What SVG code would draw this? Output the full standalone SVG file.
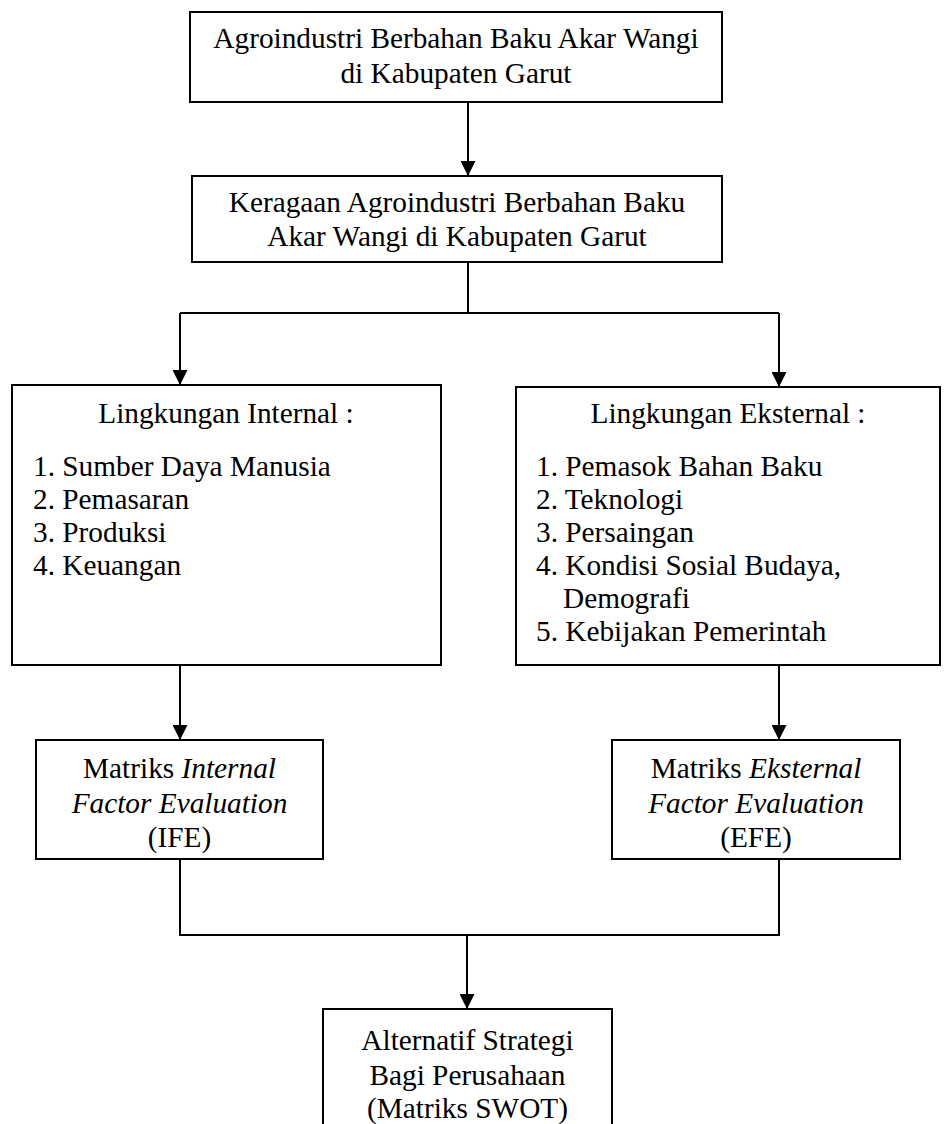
<svg xmlns="http://www.w3.org/2000/svg" width="947" height="1124" viewBox="0 0 947 1124">
<style>
.box{fill:#fff;stroke:#000;stroke-width:2}
.t{font-family:"Liberation Serif","Times New Roman",serif;font-size:29.3px;fill:#000}
.c{text-anchor:middle}
.i{font-style:italic}
.ln{fill:none;stroke:#000;stroke-width:2}
</style>
<defs>
<marker id="ah" viewBox="0 0 15 15" refX="15" refY="7.5" markerWidth="15" markerHeight="15" markerUnits="userSpaceOnUse" orient="auto">
<path d="M0,0 L15,7.5 L0,15 Z" fill="#000"/>
</marker>
</defs>
<rect width="947" height="1124" fill="#fff"/>
<g id="connectors">
<line class="ln" x1="468" y1="102" x2="468" y2="176" marker-end="url(#ah)"/>
<polyline class="ln" points="468,262 468,313"/>
<polyline class="ln" points="180,313 779,313"/>
<line class="ln" x1="180" y1="313" x2="180" y2="385" marker-end="url(#ah)"/>
<line class="ln" x1="779" y1="313" x2="779" y2="387" marker-end="url(#ah)"/>
<line class="ln" x1="180" y1="665" x2="180" y2="740" marker-end="url(#ah)"/>
<line class="ln" x1="779" y1="665" x2="779" y2="740" marker-end="url(#ah)"/>
<polyline class="ln" points="180,859 180,935 779,935 779,859"/>
<line class="ln" x1="467" y1="935" x2="467" y2="1009" marker-end="url(#ah)"/>
</g>
<g id="n1">
<rect class="box" x="190" y="12" width="532" height="90"/>
<text class="t c" x="456" y="48">Agroindustri Berbahan Baku Akar Wangi</text>
<text class="t c" x="456" y="83">di Kabupaten Garut</text>
</g>
<g id="n2">
<rect class="box" x="192" y="176" width="530" height="86"/>
<text class="t c" x="457" y="212">Keragaan Agroindustri Berbahan Baku</text>
<text class="t c" x="457" y="246">Akar Wangi di Kabupaten Garut</text>
</g>
<g id="n3">
<rect class="box" x="12" y="385" width="429" height="280"/>
<text class="t c" x="226" y="423">Lingkungan Internal :</text>
<text class="t" x="33" y="476">1. Sumber Daya Manusia</text>
<text class="t" x="33" y="509">2. Pemasaran</text>
<text class="t" x="33" y="542">3. Produksi</text>
<text class="t" x="33" y="575">4. Keuangan</text>
</g>
<g id="n4">
<rect class="box" x="516" y="387" width="424" height="278"/>
<text class="t c" x="728" y="423">Lingkungan Eksternal :</text>
<text class="t" x="536" y="476">1. Pemasok Bahan Baku</text>
<text class="t" x="536" y="509">2. Teknologi</text>
<text class="t" x="536" y="542">3. Persaingan</text>
<text class="t" x="536" y="575">4. Kondisi Sosial Budaya,</text>
<text class="t" x="563" y="608">Demografi</text>
<text class="t" x="536" y="641">5. Kebijakan Pemerintah</text>
</g>
<g id="n5">
<rect class="box" x="36" y="740" width="287" height="119"/>
<text class="t c" x="179.5" y="778">Matriks <tspan class="i">Internal</tspan></text>
<text class="t c i" x="179.5" y="813">Factor Evaluation</text>
<text class="t c" x="179.5" y="847">(IFE)</text>
</g>
<g id="n6">
<rect class="box" x="612" y="740" width="288" height="119"/>
<text class="t c" x="756" y="778">Matriks <tspan class="i">Eksternal</tspan></text>
<text class="t c i" x="756" y="813">Factor Evaluation</text>
<text class="t c" x="756" y="847">(EFE)</text>
</g>
<g id="n7">
<rect class="box" x="323" y="1009" width="289" height="130"/>
<text class="t c" x="467.5" y="1050">Alternatif Strategi</text>
<text class="t c" x="467.5" y="1085">Bagi Perusahaan</text>
<text class="t c" x="467.5" y="1118">(Matriks SWOT)</text>
</g>
</svg>
